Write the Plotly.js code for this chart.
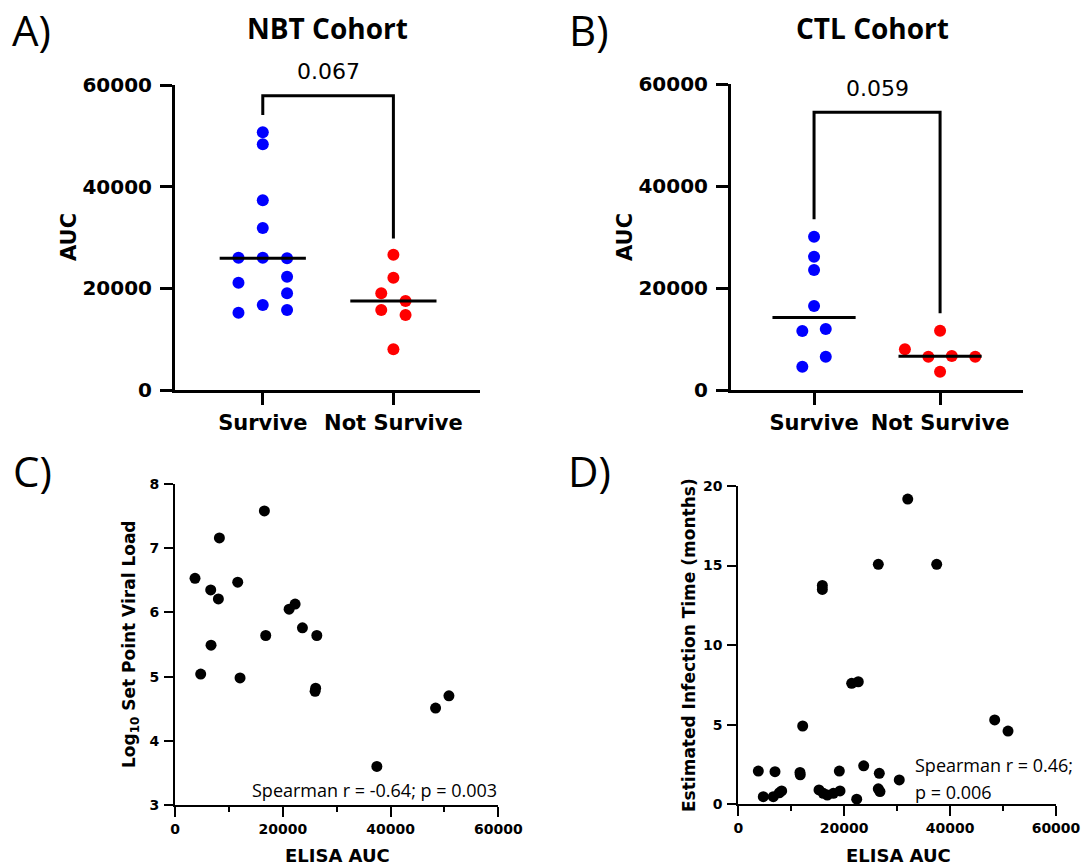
<!DOCTYPE html>
<html>
<head>
<meta charset="utf-8">
<script src="https://cdn.plot.ly/plotly-3.0.1.min.js"></script>
<style>html,body{margin:0;padding:0;background:#fff;}#chart{width:1084px;height:867px;}</style>
</head>
<body>
<div id="chart"></div>
<script>
// ---------- DATA ----------
const groupLabels = ['Survive', 'Not Survive'];

// Panel A: NBT cohort AUC
const nbtSurvive      = [50700, 48340, 37320, 31870, 26030, 26030, 25900, 22290, 21110, 19020, 16720, 15740, 15210];
const nbtSurviveLane  = [0, 0, 0, 0, -2, 0, 2, 2, -2, 2, 0, 2, -2];
const nbtNotSurvive     = [26620, 22100, 19020, 17510, 15740, 14750, 8000];
const nbtNotSurviveLane = [0, 0, -1, 1, -1, 1, 0];
const nbtBracket = [54100, 57900, 29800];   // left end, top, right end
const nbtP = '0.067';

// Panel B: CTL cohort AUC
const ctlSurvive      = [30060, 26140, 23530, 16470, 11570, 11960, 6530, 4570];
const ctlSurviveLane  = [0, 0, 0, 0, -1, 1, 1, -1];
const ctlNotSurvive     = [11630, 7970, 6530, 6670, 6530, 3590];
const ctlNotSurviveLane = [0, -3, -1, 1, 3, 0];
const ctlBracket = [33470, 54450, 15040];
const ctlP = '0.059';

// Panel C: ELISA AUC vs log10 set point viral load
const vlElisa = [3715, 4770, 6630, 8050, 8240, 6690, 11640, 12070, 16590, 16840, 21180, 22290, 23650, 26320, 26000, 26100, 37460, 48360, 50840];
const vlLog   = [6.53, 5.04, 6.35, 6.21, 7.16, 5.49, 6.47, 4.98, 7.58, 5.64, 6.05, 6.13, 5.76, 5.64, 4.77, 4.82, 3.60, 4.51, 4.70];
const vlStat = 'Spearman r = -0.64; p = 0.003';

// Panel D: ELISA AUC vs estimated infection time (months)
const itElisa  = [32000, 26440, 37470, 15870, 15870, 21410, 22660, 12160, 48420, 50940, 3780, 6930, 11650, 11700, 19080, 23680, 26630, 30400, 4720, 6610, 7740, 8190, 15240, 16050, 16810, 17950, 19210, 22360, 26440, 26760];
const itMonths = [19.18, 15.08, 15.08, 13.75, 13.5, 7.6, 7.7, 4.92, 5.3, 4.6, 2.09, 2.05, 2.0, 1.85, 2.09, 2.42, 1.95, 1.53, 0.48, 0.48, 0.72, 0.84, 0.9, 0.69, 0.58, 0.69, 0.84, 0.32, 0.97, 0.80];
const itStat1 = 'Spearman r = 0.46;';
const itStat2 = 'p = 0.006';

// ---------- STYLE / LAYOUT ----------
const W = 1084, H = 867;
const px = v => v / W;
const py = v => 1 - v / H;
const BLUE = '#0000ff', RED = '#ff0000';
const LANE = 0.093, HALF = 0.33;
const ARIAL = 'DejaVu Sans';
const OPEN = 'Open Sans';

function median(a) {
  const s = a.slice().sort((p, q) => p - q);
  const m = Math.floor(s.length / 2);
  return s.length % 2 ? s[m] : (s[m - 1] + s[m]) / 2;
}

function dots(vals, lanes, cat, color, xa, ya) {
  return {type: 'scatter', mode: 'markers', x: vals.map((v, i) => cat + lanes[i] * LANE), y: vals,
    xaxis: xa, yaxis: ya, cliponaxis: false, hoverinfo: 'skip',
    marker: {color: color, size: 12, line: {width: 0}}};
}
function medLine(vals, cat, xa, ya) {
  const m = median(vals);
  return {type: 'scatter', mode: 'lines', x: [cat - HALF, cat + HALF], y: [m, m], xaxis: xa, yaxis: ya,
    line: {color: '#000', width: 3}, cliponaxis: false, hoverinfo: 'skip'};
}
function bracket(b, xa, ya) {
  return {type: 'scatter', mode: 'lines', x: [0, 0, 1, 1], y: [b[0], b[1], b[1], b[2]], xaxis: xa, yaxis: ya,
    line: {color: '#000', width: 3}, cliponaxis: false, hoverinfo: 'skip'};
}

const traces = [
  dots(nbtSurvive, nbtSurviveLane, 0, BLUE, 'x', 'y'),
  dots(nbtNotSurvive, nbtNotSurviveLane, 1, RED, 'x', 'y'),
  medLine(nbtSurvive, 0, 'x', 'y'),
  medLine(nbtNotSurvive, 1, 'x', 'y'),
  bracket(nbtBracket, 'x', 'y'),
  dots(ctlSurvive, ctlSurviveLane, 0, BLUE, 'x2', 'y2'),
  dots(ctlNotSurvive, ctlNotSurviveLane, 1, RED, 'x2', 'y2'),
  medLine(ctlSurvive, 0, 'x2', 'y2'),
  medLine(ctlNotSurvive, 1, 'x2', 'y2'),
  bracket(ctlBracket, 'x2', 'y2'),
  {type: 'scatter', mode: 'markers', x: vlElisa, y: vlLog, xaxis: 'x3', yaxis: 'y3', cliponaxis: false,
   marker: {color: '#000', size: 11}, hoverinfo: 'skip'},
  {type: 'scatter', mode: 'markers', x: itElisa, y: itMonths, xaxis: 'x4', yaxis: 'y4', cliponaxis: false,
   marker: {color: '#000', size: 11}, hoverinfo: 'skip'}
];

function catAxis(dom, range, anchor) {
  return {domain: dom, range: range, anchor: anchor, tickvals: [0, 1], ticktext: groupLabels,
    showline: true, linewidth: 3, linecolor: '#000', ticks: 'outside', ticklen: 12, tickwidth: 3, tickcolor: '#000',
    showgrid: false, zeroline: false, fixedrange: true,
    tickfont: {family: ARIAL, size: 21, color: '#000', weight: 'bold'}};
}
function aucAxis(dom, anchor) {
  return {domain: dom, range: [0, 60000], anchor: anchor, tickvals: [0, 20000, 40000, 60000], tickformat: 'd',
    showline: true, linewidth: 3, linecolor: '#000', ticks: 'outside', ticklen: 12, tickwidth: 3, tickcolor: '#000',
    showgrid: false, zeroline: false, fixedrange: true, ticklabelstandoff: 4,
    tickfont: {family: ARIAL, size: 20, color: '#000', weight: 'bold'}};
}
function elisaAxis(dom, anchor) {
  return {domain: dom, range: [0, 60000], anchor: anchor, tickvals: [0, 20000, 40000, 60000], tickformat: 'd',
    showline: true, linewidth: 2, linecolor: '#000', ticks: 'outside', ticklen: 10, tickwidth: 2, tickcolor: '#000',
    minor: {tickvals: [10000, 30000, 50000], ticks: 'outside', ticklen: 5, tickwidth: 2, tickcolor: '#000', showgrid: false},
    showgrid: false, zeroline: false, fixedrange: true,
    tickfont: {family: ARIAL, size: 14, color: '#000', weight: 'bold'}};
}
function numAxis(dom, range, tv, anchor) {
  return {domain: dom, range: range, anchor: anchor, tickvals: tv,
    showline: true, linewidth: 2, linecolor: '#000', ticks: 'outside', ticklen: 9, tickwidth: 2, tickcolor: '#000',
    showgrid: false, zeroline: false, fixedrange: true, ticklabelstandoff: 2,
    tickfont: {family: ARIAL, size: 14, color: '#000', weight: 'bold'}};
}

function txt(text, x, y, font, extra) {
  return Object.assign({text: text, xref: 'paper', yref: 'paper', x: px(x), y: py(y), showarrow: false,
    xanchor: 'center', yanchor: 'middle', font: font}, extra || {});
}
const letterFont = {family: OPEN, size: 42, color: '#000'};
const titleFont = {family: OPEN, size: 28, color: '#000', weight: 'bold'};
const pFont = {family: ARIAL, size: 22, color: '#000'};
const aucFont = {family: ARIAL, size: 21, color: '#000', weight: 'bold'};
const smallTitle = {family: ARIAL, size: 17, color: '#000', weight: 'bold'};
const elisaFont = {family: ARIAL, size: 18, color: '#000', weight: 'bold'};
const statFont = {family: OPEN, size: 18, color: '#000'};

const layout = {
  width: W, height: H, margin: {l: 0, r: 0, t: 0, b: 0}, showlegend: false,
  paper_bgcolor: '#fff', plot_bgcolor: 'rgba(0,0,0,0)',
  xaxis:  catAxis([px(175), px(480)], [-0.672, 1.663], 'y'),
  yaxis:  aucAxis([py(390), py(85)], 'x'),
  xaxis2: catAxis([px(731), px(1023)], [-0.659, 1.658], 'y2'),
  yaxis2: aucAxis([py(390), py(84)], 'x2'),
  xaxis3: elisaAxis([px(175), px(498.3)], 'y3'),
  yaxis3: numAxis([py(805), py(484)], [3, 8], [3, 4, 5, 6, 7, 8], 'x3'),
  xaxis4: elisaAxis([px(738.3), px(1056)], 'y4'),
  yaxis4: numAxis([py(804.3), py(486)], [0, 20], [0, 5, 10, 15, 20], 'x4'),
  annotations: [
    txt('A)', 10, 29, letterFont, {xanchor: 'left'}),
    txt('B)', 567, 29, letterFont, {xanchor: 'left'}),
    txt('C)', 11, 470, letterFont, {xanchor: 'left'}),
    txt('D)', 566, 470, letterFont, {xanchor: 'left'}),
    txt('NBT Cohort', 327, 28, titleFont),
    txt('CTL Cohort', 872, 28, titleFont),
    txt(nbtP, 328, 72, pFont),
    txt(ctlP, 877, 88, pFont),
    txt('AUC', 69, 237, aucFont, {textangle: -90}),
    txt('AUC', 625, 237, aucFont, {textangle: -90}),
    txt('Log<sub>10</sub> Set Point Viral Load', 130, 644, smallTitle, {textangle: -90}),
    txt('Estimated Infection Time (months)', 689, 645, smallTitle, {textangle: -90}),
    txt('ELISA AUC', 337, 855, elisaFont),
    txt('ELISA AUC', 898, 855, elisaFont),
    txt(vlStat, 499, 790, statFont, {xanchor: 'right'}),
    txt(itStat1, 913, 765, statFont, {xanchor: 'left'}),
    txt(itStat2, 913, 792, statFont, {xanchor: 'left'})
  ]
};

Plotly.newPlot('chart', traces, layout, {staticPlot: true, displayModeBar: false});
</script>
</body>
</html>
